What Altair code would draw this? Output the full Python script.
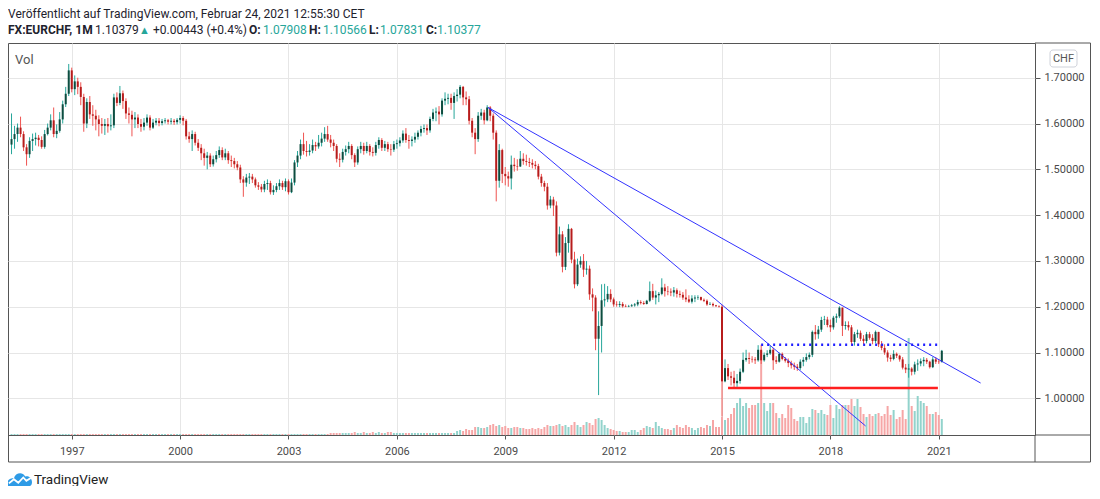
import altair as alt
import pandas as pd

# ---------------- data (monthly EURCHF candles) ----------------
START_YEAR, START_MONTH = 1995, 5
FIRST_OPEN = 1.554

closes = {
    1995: [1.566, 1.577, 1.591, 1.577, 1.548, 1.533, 1.562, 1.566],
    1996: [1.569, 1.564, 1.549, 1.577, 1.591, 1.607, 1.577, 1.584, 1.609, 1.642, 1.665, 1.716],
    1997: [1.675, 1.692, 1.680, 1.658, 1.600, 1.647, 1.620, 1.617, 1.609, 1.599, 1.595, 1.599],
    1998: [1.594, 1.596, 1.657, 1.645, 1.666, 1.649, 1.622, 1.619, 1.609, 1.613, 1.599, 1.593],
    1999: [1.602, 1.613, 1.591, 1.602, 1.606, 1.601, 1.605, 1.607, 1.604, 1.606, 1.603, 1.608],
    2000: [1.612, 1.606, 1.572, 1.566, 1.577, 1.558, 1.547, 1.535, 1.525, 1.530, 1.511, 1.522],
    2001: [1.531, 1.542, 1.526, 1.535, 1.520, 1.518, 1.511, 1.504, 1.478, 1.471, 1.482, 1.484],
    2002: [1.478, 1.465, 1.462, 1.456, 1.468, 1.470, 1.450, 1.455, 1.463, 1.470, 1.461, 1.474],
    2003: [1.450, 1.471, 1.515, 1.530, 1.555, 1.540, 1.538, 1.541, 1.553, 1.550, 1.558, 1.567],
    2004: [1.577, 1.565, 1.558, 1.551, 1.523, 1.521, 1.538, 1.544, 1.551, 1.531, 1.515, 1.544],
    2005: [1.551, 1.540, 1.551, 1.538, 1.536, 1.553, 1.564, 1.547, 1.555, 1.544, 1.543, 1.555],
    2006: [1.557, 1.563, 1.578, 1.564, 1.562, 1.565, 1.571, 1.580, 1.588, 1.590, 1.585, 1.610],
    2007: [1.624, 1.626, 1.620, 1.650, 1.654, 1.656, 1.645, 1.660, 1.663, 1.680, 1.657, 1.653],
    2008: [1.606, 1.580, 1.566, 1.617, 1.624, 1.607, 1.635, 1.617, 1.580, 1.475, 1.542, 1.490],
    2009: [1.485, 1.480, 1.510, 1.507, 1.506, 1.523, 1.518, 1.516, 1.514, 1.510, 1.507, 1.484],
    2010: [1.470, 1.462, 1.421, 1.434, 1.421, 1.318, 1.358, 1.287, 1.339, 1.370, 1.303, 1.249],
    2011: [1.292, 1.300, 1.281, 1.283, 1.227, 1.220, 1.130, 1.158, 1.214, 1.216, 1.228, 1.216],
    2012: [1.205, 1.204, 1.206, 1.201, 1.200, 1.201, 1.203, 1.205, 1.210, 1.208, 1.206, 1.213],
    2013: [1.234, 1.220, 1.225, 1.228, 1.242, 1.234, 1.233, 1.231, 1.236, 1.228, 1.226, 1.220],
    2014: [1.216, 1.211, 1.218, 1.220, 1.221, 1.215, 1.213, 1.205, 1.206, 1.203, 1.201, 1.200],
    2015: [1.037, 1.066, 1.048, 1.045, 1.033, 1.038, 1.058, 1.084, 1.088, 1.086, 1.085, 1.083],
    2016: [1.106, 1.083, 1.095, 1.098, 1.106, 1.083, 1.080, 1.097, 1.086, 1.082, 1.077, 1.072],
    2017: [1.069, 1.066, 1.080, 1.084, 1.090, 1.095, 1.145, 1.140, 1.150, 1.171, 1.172, 1.160],
    2018: [1.155, 1.176, 1.179, 1.198, 1.158, 1.160, 1.155, 1.123, 1.140, 1.143, 1.130, 1.125],
    2019: [1.140, 1.132, 1.125, 1.145, 1.118, 1.110, 1.100, 1.089, 1.086, 1.097, 1.093, 1.085],
    2020: [1.067, 1.063, 1.065, 1.058, 1.074, 1.076, 1.081, 1.084, 1.080, 1.068, 1.085, 1.080],
    2021: [1.07908, 1.10377],
}

highs = {
    1995: [1.622, 1.595, 1.600, 1.615, 1.583, 1.555, 1.570, 1.578],
    1996: [1.580, 1.575, 1.572, 1.586, 1.600, 1.620, 1.635, 1.598, 1.625, 1.650, 1.680, 1.730],
    1997: [1.722, 1.705, 1.700, 1.690, 1.665, 1.655, 1.660, 1.640, 1.630, 1.618, 1.612, 1.610],
    1998: [1.612, 1.620, 1.665, 1.668, 1.682, 1.672, 1.655, 1.635, 1.628, 1.625, 1.620, 1.610],
    1999: [1.612, 1.620, 1.618, 1.610, 1.612, 1.612, 1.610, 1.612, 1.610, 1.612, 1.610, 1.612],
    2000: [1.618, 1.616, 1.610, 1.582, 1.585, 1.582, 1.566, 1.555, 1.545, 1.538, 1.535, 1.530],
    2001: [1.540, 1.550, 1.548, 1.545, 1.540, 1.530, 1.525, 1.518, 1.510, 1.485, 1.490, 1.492],
    2002: [1.490, 1.482, 1.472, 1.468, 1.475, 1.478, 1.475, 1.465, 1.470, 1.478, 1.475, 1.480],
    2003: [1.478, 1.480, 1.520, 1.540, 1.565, 1.580, 1.562, 1.555, 1.565, 1.560, 1.575, 1.580],
    2004: [1.592, 1.595, 1.575, 1.565, 1.555, 1.535, 1.545, 1.552, 1.560, 1.555, 1.535, 1.550],
    2005: [1.560, 1.558, 1.560, 1.555, 1.548, 1.560, 1.570, 1.568, 1.562, 1.560, 1.555, 1.562],
    2006: [1.565, 1.570, 1.585, 1.590, 1.575, 1.572, 1.580, 1.585, 1.595, 1.598, 1.598, 1.615],
    2007: [1.632, 1.635, 1.638, 1.655, 1.668, 1.665, 1.665, 1.668, 1.675, 1.684, 1.682, 1.670],
    2008: [1.660, 1.612, 1.590, 1.625, 1.632, 1.630, 1.640, 1.638, 1.622, 1.585, 1.555, 1.545],
    2009: [1.505, 1.495, 1.530, 1.525, 1.522, 1.540, 1.535, 1.532, 1.525, 1.522, 1.518, 1.512],
    2010: [1.490, 1.475, 1.470, 1.442, 1.440, 1.430, 1.375, 1.365, 1.352, 1.380, 1.372, 1.320],
    2011: [1.305, 1.310, 1.315, 1.300, 1.290, 1.240, 1.225, 1.190, 1.249, 1.250, 1.245, 1.238],
    2012: [1.220, 1.212, 1.212, 1.210, 1.205, 1.204, 1.206, 1.208, 1.215, 1.214, 1.212, 1.215],
    2013: [1.255, 1.250, 1.235, 1.232, 1.262, 1.250, 1.245, 1.240, 1.243, 1.240, 1.235, 1.232],
    2014: [1.238, 1.225, 1.225, 1.225, 1.225, 1.222, 1.218, 1.216, 1.210, 1.209, 1.204, 1.203],
    2015: [1.204, 1.085, 1.075, 1.058, 1.060, 1.053, 1.065, 1.100, 1.106, 1.100, 1.092, 1.090],
    2016: [1.116, 1.117, 1.100, 1.105, 1.115, 1.110, 1.092, 1.100, 1.100, 1.090, 1.087, 1.082],
    2017: [1.078, 1.075, 1.085, 1.090, 1.098, 1.100, 1.148, 1.160, 1.158, 1.178, 1.180, 1.178],
    2018: [1.172, 1.180, 1.185, 1.201, 1.198, 1.168, 1.168, 1.160, 1.145, 1.150, 1.148, 1.138],
    2019: [1.145, 1.145, 1.140, 1.148, 1.145, 1.125, 1.118, 1.105, 1.095, 1.105, 1.100, 1.095],
    2020: [1.090, 1.075, 1.075, 1.068, 1.080, 1.085, 1.087, 1.090, 1.088, 1.082, 1.090, 1.090],
    2021: [1.086, 1.10566],
}

lows = {
    1995: [1.533, 1.545, 1.560, 1.570, 1.540, 1.508, 1.525, 1.540],
    1996: [1.552, 1.550, 1.545, 1.545, 1.574, 1.585, 1.570, 1.568, 1.580, 1.600, 1.636, 1.660],
    1997: [1.668, 1.662, 1.664, 1.640, 1.582, 1.590, 1.610, 1.595, 1.585, 1.572, 1.578, 1.575],
    1998: [1.580, 1.585, 1.590, 1.638, 1.640, 1.632, 1.610, 1.600, 1.572, 1.590, 1.590, 1.582],
    1999: [1.585, 1.595, 1.585, 1.588, 1.596, 1.594, 1.596, 1.600, 1.598, 1.598, 1.597, 1.598],
    2000: [1.600, 1.596, 1.565, 1.558, 1.540, 1.552, 1.540, 1.520, 1.508, 1.500, 1.505, 1.506],
    2001: [1.515, 1.525, 1.520, 1.520, 1.512, 1.505, 1.502, 1.498, 1.470, 1.440, 1.462, 1.468],
    2002: [1.470, 1.460, 1.455, 1.450, 1.450, 1.455, 1.445, 1.444, 1.450, 1.455, 1.455, 1.452],
    2003: [1.445, 1.448, 1.465, 1.505, 1.522, 1.532, 1.528, 1.530, 1.535, 1.540, 1.545, 1.550],
    2004: [1.560, 1.560, 1.548, 1.540, 1.515, 1.505, 1.515, 1.530, 1.535, 1.522, 1.505, 1.510],
    2005: [1.535, 1.532, 1.535, 1.530, 1.528, 1.530, 1.545, 1.540, 1.540, 1.538, 1.530, 1.538],
    2006: [1.545, 1.550, 1.558, 1.558, 1.545, 1.550, 1.558, 1.565, 1.572, 1.580, 1.575, 1.580],
    2007: [1.605, 1.605, 1.598, 1.615, 1.640, 1.642, 1.630, 1.610, 1.648, 1.655, 1.640, 1.640],
    2008: [1.598, 1.570, 1.533, 1.560, 1.608, 1.598, 1.605, 1.605, 1.565, 1.430, 1.460, 1.470],
    2009: [1.465, 1.462, 1.456, 1.495, 1.497, 1.505, 1.510, 1.508, 1.505, 1.502, 1.500, 1.478],
    2010: [1.462, 1.452, 1.412, 1.415, 1.398, 1.310, 1.312, 1.275, 1.280, 1.318, 1.295, 1.240],
    2011: [1.245, 1.285, 1.265, 1.270, 1.215, 1.190, 1.105, 1.007, 1.100, 1.200, 1.210, 1.210],
    2012: [1.200, 1.200, 1.199, 1.198, 1.199, 1.199, 1.200, 1.200, 1.201, 1.205, 1.204, 1.205],
    2013: [1.210, 1.215, 1.205, 1.210, 1.225, 1.222, 1.225, 1.223, 1.222, 1.220, 1.220, 1.215],
    2014: [1.210, 1.208, 1.207, 1.210, 1.215, 1.213, 1.210, 1.202, 1.204, 1.200, 1.200, 1.198],
    2015: [0.960, 1.035, 1.040, 1.028, 1.022, 1.025, 1.032, 1.055, 1.080, 1.075, 1.078, 1.075],
    2016: [1.080, 1.075, 1.080, 1.090, 1.095, 1.062, 1.075, 1.078, 1.083, 1.078, 1.068, 1.065],
    2017: [1.062, 1.060, 1.062, 1.070, 1.080, 1.085, 1.090, 1.128, 1.130, 1.145, 1.160, 1.155],
    2018: [1.145, 1.150, 1.165, 1.175, 1.136, 1.150, 1.148, 1.115, 1.115, 1.132, 1.125, 1.118],
    2019: [1.120, 1.128, 1.118, 1.120, 1.112, 1.105, 1.095, 1.080, 1.080, 1.083, 1.088, 1.080],
    2020: [1.063, 1.055, 1.045, 1.050, 1.052, 1.060, 1.070, 1.070, 1.075, 1.065, 1.066, 1.075],
    2021: [1.075, 1.07831],
}

volumes = {
    1995: [1, 1, 1, 1, 1, 1, 1, 1],
    1996: [1, 1, 1, 1, 1, 1, 1, 1, 1, 1, 1, 1],
    1997: [1, 1, 1, 1, 1, 1, 1, 1, 1, 1, 1, 1],
    1998: [1, 1, 1, 1, 1, 1, 1, 1, 1, 1, 1, 1],
    1999: [1, 1, 1, 1, 1, 1, 1, 1, 1, 1, 1, 1],
    2000: [1, 1, 1, 1, 1, 1, 1, 1, 1, 1, 1, 1],
    2001: [1, 1, 1, 1, 1, 1, 1, 1, 1, 1, 1, 1],
    2002: [1, 1, 1, 1, 1, 1, 1, 1, 1, 1, 1, 1],
    2003: [1, 1, 1, 1, 1, 1, 1, 1, 1, 1, 1, 1],
    2004: [1, 1, 2, 2, 2, 2, 2, 2, 2, 2, 3, 2],
    2005: [2, 3, 2, 2, 3, 2, 3, 2, 2, 3, 3, 2],
    2006: [2, 2, 2, 2, 2, 2, 2, 2, 2, 2, 2, 2],
    2007: [2, 2, 2, 2, 2, 2, 2, 2, 4, 5, 4, 6],
    2008: [5, 5, 8, 8, 7, 7, 8, 10, 11, 9, 10, 8],
    2009: [9, 7, 7, 8, 8, 7, 7, 6, 6, 7, 6, 7],
    2010: [6, 8, 10, 9, 9, 10, 11, 9, 10, 8, 10, 13],
    2011: [10, 8, 10, 13, 12, 10, 16, 17, 15, 10, 7, 6],
    2012: [5, 4, 4, 3, 3, 3, 5, 5, 3, 5, 7, 9],
    2013: [8, 7, 13, 9, 7, 6, 6, 5, 7, 10, 8, 7],
    2014: [10, 8, 7, 5, 7, 8, 7, 10, 9, 15, 8, 8],
    2015: [18, 15, 17, 21, 27, 32, 37, 29, 32, 27, 30, 30],
    2016: [32, 84, 32, 24, 32, 32, 22, 17, 21, 17, 30, 27],
    2017: [16, 14, 18, 18, 12, 18, 26, 25, 22, 25, 21, 20],
    2018: [30, 17, 30, 26, 30, 30, 30, 36, 29, 36, 28, 21],
    2019: [18, 21, 19, 21, 22, 19, 21, 29, 20, 25, 16, 18],
    2020: [25, 16, 97, 29, 24, 39, 34, 32, 29, 21, 21, 23],
    2021: [20, 16],
}

# drawings (month index from Jan 1997, price)
trend_id = ["a", "a", "b", "b"]
trend_m = [138.3, 301.9, 138.3, 263.7]
trend_p = [1.635, 1.0334, 1.635, 0.9396]
support_m = [218.0, 287.7]
support_p = [1.0225, 1.0225]
resist_m = [229.0, 288.7]
resist_p = [1.117, 1.117]

year_ticks = [1997, 2000, 2003, 2006, 2009, 2012, 2015, 2018, 2021]
price_ticks = [1.0, 1.1, 1.2, 1.3, 1.4, 1.5, 1.6, 1.7]

# ---------------- build table ----------------
rows = []
prev = FIRST_OPEN
for yr in sorted(closes):
    m0 = START_MONTH if yr == START_YEAR else 1
    for i, c in enumerate(closes[yr]):
        mi = (yr - 1997) * 12 + (m0 + i - 1)
        o = prev
        rows.append(dict(m=mi, open=o, close=c,
                         high=max(highs[yr][i], o, c), low=min(lows[yr][i], o, c),
                         vol=volumes[yr][i], dir="up" if c >= o else "down"))
        prev = c
df = pd.DataFrame(rows)

trend_df = pd.DataFrame({"id": trend_id, "m": trend_m, "p": trend_p})
support_df = pd.DataFrame({"m": support_m, "p": support_p})
resist_df = pd.DataFrame({"m": resist_m, "p": resist_p})

# ---------------- styling ----------------
W, H = 1027, 392
FONT = "Roboto"
FRAME = "#555555"
GRID = "#e6e6e6"
UP_BODY, UP_WICK = "#0d4d40", "#26a69a"
DN_BODY, DN_WICK = "#b71c1c", "#ef5350"
VOL_UP, VOL_DN = "#92d3cc", "#f6a6a6"
TEAL = "#26a69a"
TXT = "#1e222d"

XS = alt.Scale(domain=[-19.51, 318.3], nice=False, zero=False)
YS = alt.Scale(domain=[0.9199, 1.7758], nice=False, zero=False)
VS = alt.Scale(domain=[0, 392], nice=False, zero=True)

x_axis = alt.Axis(values=[(y - 1997) * 12 for y in year_ticks],
                  labelExpr="'' + round(1997 + datum.value / 12)",
                  title=None, grid=True, gridColor=GRID, gridWidth=1,
                  tickSize=4, tickColor=FRAME, domain=False,
                  labelFont=FONT, labelFontSize=11, labelColor="#4a4a4a",
                  labelPadding=6, labelFlush=False)
y_axis = alt.Axis(orient="right", values=price_ticks, format=".5f", title=None,
                  grid=True, gridColor=GRID, gridWidth=1, tickSize=5, tickColor=FRAME,
                  domain=False, labelFont=FONT, labelFontSize=11, labelColor="#4a4a4a",
                  labelPadding=4)

X = alt.X("m:Q", scale=XS, axis=x_axis)


def dircolor(up, dn):
    return alt.condition("datum.dir == 'up'", alt.value(up), alt.value(dn))


vol = alt.Chart(df).mark_bar(size=2, orient="vertical").encode(
    x=X, y=alt.Y("vol:Q", scale=VS, axis=None), color=dircolor(VOL_UP, VOL_DN))

wicks = alt.Chart(df).mark_rule(strokeWidth=1).encode(
    x=X, y=alt.Y("low:Q", scale=YS, axis=y_axis), y2="high:Q",
    color=dircolor(UP_WICK, DN_WICK))

bodies = alt.Chart(df).mark_bar(size=2, orient="vertical").encode(
    x=X, y=alt.Y("open:Q", scale=YS, axis=None), y2="close:Q",
    color=dircolor(UP_BODY, DN_BODY))

trend = alt.Chart(trend_df).mark_line(color="#3333ff", strokeWidth=1).encode(
    x=X, y=alt.Y("p:Q", scale=YS, axis=None), detail="id:N")
support = alt.Chart(support_df).mark_line(color="#ff1f1f", strokeWidth=2.5).encode(
    x=X, y=alt.Y("p:Q", scale=YS, axis=None))
resist = alt.Chart(resist_df).mark_line(color="#1f1fff", strokeWidth=2.5,
                                        strokeDash=[2, 4]).encode(
    x=X, y=alt.Y("p:Q", scale=YS, axis=None))

ONE = pd.DataFrame({"k": [0]})


def txt(s, x, y, size=12, color=TXT, weight="normal", align="left", baseline="alphabetic"):
    return alt.Chart(ONE).mark_text(align=align, baseline=baseline, font=FONT, fontSize=size,
                                    color=color, fontWeight=weight).encode(
        x=alt.value(x), y=alt.value(y), text=alt.value(s))


def line(x1, y1, x2, y2, color=FRAME):
    return alt.Chart(ONE).mark_rule(color=color, strokeWidth=1).encode(
        x=alt.value(x1), x2=alt.value(x2), y=alt.value(y1), y2=alt.value(y2))


R = W + 55.5
texts = [
    txt("Veröffentlicht auf TradingView.com, Februar 24, 2021 12:55:30 CET", 0, -25, size=12),
    txt("FX:EURCHF, 1M", 0, -9, weight="bold"),
    txt("1.10379", 87, -9),
    txt("▲", 131, -9, size=11, color=TEAL),
    txt("+0.00443 (+0.4%)", 145, -9),
    txt("O:", 241, -9, weight="bold"),
    txt("1.07908", 255, -9, color=TEAL),
    txt("H:", 301, -9, weight="bold"),
    txt("1.10566", 315, -9, color=TEAL),
    txt("L:", 361, -9, weight="bold"),
    txt("1.07831", 372, -9, color=TEAL),
    txt("C:", 418, -9, weight="bold"),
    txt("1.10377", 429, -9, color=TEAL),
    txt("Vol", 7, 21, size=13, color="#555555"),
    txt("TradingView", 26, 441, size=13.5, color="#222222"),
]

chf_box = alt.Chart(ONE).mark_rect(fill="white", stroke="#cfd2da", strokeWidth=1,
                                   cornerRadius=3).encode(
    x=alt.value(W + 15), x2=alt.value(W + 42), y=alt.value(7), y2=alt.value(24))
chf_txt = txt("CHF", W + 28.5, 16, size=11, color="#555555", align="center", baseline="middle")

CLOUD = ("M-1,0.45 C-1,0.1 -0.75,-0.12 -0.45,-0.05 C-0.35,-0.5 0.25,-0.62 0.45,-0.2 "
         "C0.75,-0.3 1,-0.05 1,0.25 C1,0.5 0.85,0.6 0.65,0.6 L-0.8,0.6 "
         "C-0.92,0.6 -1,0.55 -1,0.45 Z")
ZIG = "M-0.85,0.35 L-0.45,0.02 L-0.1,0.3 L0.3,-0.12 L0.55,0.15 L0.9,-0.08"
logo = alt.Chart(ONE).mark_point(shape=CLOUD, filled=True, fill="#2e9be6", stroke=None,
                                 size=625, opacity=1).encode(
    x=alt.value(11.5), y=alt.value(436))
logo_zig = alt.Chart(ONE).mark_point(shape=ZIG, filled=False, stroke="white", strokeWidth=1.8,
                                     size=625, opacity=1).encode(
    x=alt.value(11.5), y=alt.value(436))

frame = [
    line(W, 0, R, 0),
    line(W, H, R, H),
    line(0.5, H + 27, R, H + 27),
    line(R, 0, R, H + 27),
    line(0.5, H, 0.5, H + 27),
    line(W, H, W, H + 27),
]

chart = alt.layer(
    vol, wicks, bodies, trend, support, resist,
    chf_box, chf_txt, logo, logo_zig, *texts, *frame
).resolve_scale(y="independent").properties(
    width=W, height=H,
    autosize=alt.AutoSizeParams(type="none"),
    padding={"left": 0, "top": 35, "right": 56, "bottom": 51},
    background="white",
).configure_view(stroke=FRAME, strokeWidth=1)

chart.save("out.html", embed_options={"renderer": "svg", "actions": False})
